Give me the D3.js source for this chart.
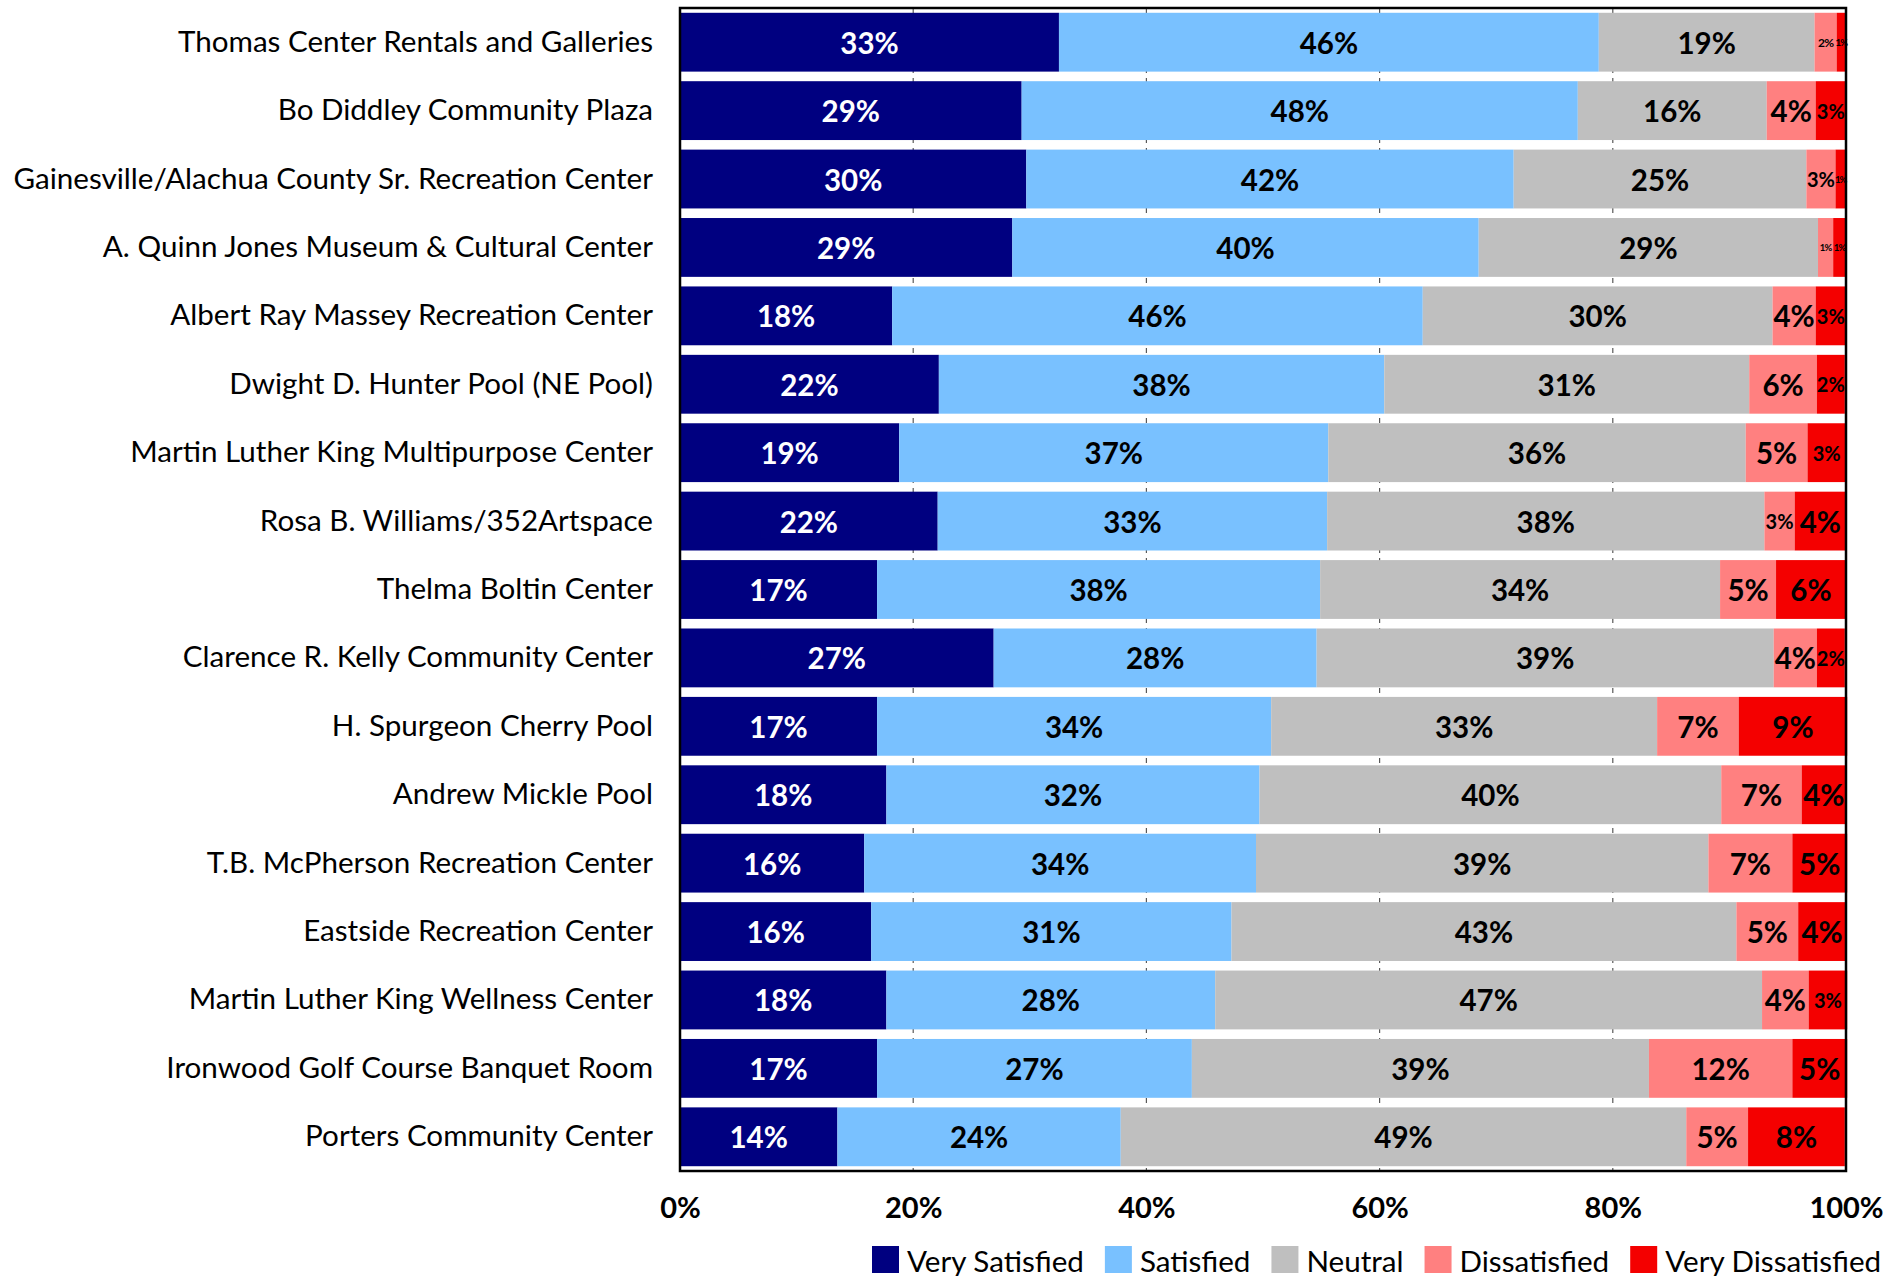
<!DOCTYPE html>
<html><head><meta charset="utf-8">
<script src="https://cdn.jsdelivr.net/npm/d3@7/dist/d3.min.js"></script>
<style>
html,body{margin:0;padding:0;background:#fff;}
svg{display:block;}
</style></head>
<body>
<svg id="chart" width="1902" height="1276"></svg>
<script>
const categories = [
  "Thomas Center Rentals and Galleries",
  "Bo Diddley Community Plaza",
  "Gainesville/Alachua County Sr. Recreation Center",
  "A. Quinn Jones Museum & Cultural Center",
  "Albert Ray Massey Recreation Center",
  "Dwight D. Hunter Pool (NE Pool)",
  "Martin Luther King Multipurpose Center",
  "Rosa B. Williams/352Artspace",
  "Thelma Boltin Center",
  "Clarence R. Kelly Community Center",
  "H. Spurgeon Cherry Pool",
  "Andrew Mickle Pool",
  "T.B. McPherson Recreation Center",
  "Eastside Recreation Center",
  "Martin Luther King Wellness Center",
  "Ironwood Golf Course Banquet Room",
  "Porters Community Center"
];
const seriesNames = ["Very Satisfied","Satisfied","Neutral","Dissatisfied","Very Dissatisfied"];
const verySatisfied    = [32.5, 29.3, 29.7, 28.5, 18.2, 22.2, 18.8, 22.1, 16.9, 26.9, 16.9, 17.7, 15.8, 16.4, 17.7, 16.9, 13.5];
const satisfied        = [46.3, 47.7, 41.8, 40.0, 45.5, 38.2, 36.8, 33.4, 38.0, 27.7, 33.8, 32.0, 33.6, 30.9, 28.2, 27.0, 24.3];
const neutral          = [18.5, 16.2, 25.1, 29.1, 30.0, 31.3, 35.8, 37.5, 34.3, 39.2, 33.1, 39.6, 38.8, 43.3, 46.9, 39.2, 48.5];
const dissatisfied     = [ 1.9,  4.2,  2.5,  1.3,  3.7,  5.8,  5.3,  2.6,  4.8,  3.7,  7.0,  6.9,  7.2,  5.3,  4.0, 12.3,  5.3];
const veryDissatisfied = [ 0.8,  2.6,  0.9,  1.1,  2.6,  2.4,  3.3,  4.4,  6.0,  2.4,  9.3,  3.8,  4.7,  4.1,  3.3,  4.7,  8.3];
const xTicks = [0, 20, 40, 60, 80, 100];

const colors = ["#000080","#79C1FF","#BFBFBF","#FF8080","#F40000"];
const labelColors = ["#FFFFFF","#000000","#000000","#000000","#000000"];

const seriesValues = [verySatisfied, satisfied, neutral, dissatisfied, veryDissatisfied];
const rows = categories.map((c, i) => {
  const r = {category: c};
  seriesNames.forEach((s, k) => r[s] = seriesValues[k][i]);
  return r;
});
const stacked = d3.stack().keys(seriesNames)(rows);

const svg = d3.select("#chart");
const L = 680, R = 1846, T = 8, B = 1171;
const x = d3.scaleLinear().domain([0, 100]).range([L, R]);
const y = d3.scaleBand().domain(categories).range([T, B]).paddingInner(0.14).paddingOuter(0.07);

const FONT = "Lato, 'Open Sans', sans-serif";

// gridlines
svg.append("g").selectAll("line").data(xTicks.filter(t => t > 0 && t < 100)).join("line")
  .attr("x1", d => x(d)).attr("x2", d => x(d)).attr("y1", T).attr("y2", B)
  .attr("stroke", "#595959").attr("stroke-width", 1.2).attr("stroke-dasharray", "5,5");

// bars
const gSeries = svg.append("g").selectAll("g").data(stacked).join("g")
  .attr("fill", (d, k) => colors[k]);
gSeries.selectAll("rect").data(d => d).join("rect")
  .attr("x", d => x(d[0]))
  .attr("width", d => x(d[1]) - x(d[0]))
  .attr("y", d => y(d.data.category))
  .attr("height", y.bandwidth());

// bar labels (font size shrinks for narrow segments)
function labelSize(w) {
  if (w < 16) return 9.5;
  if (w < 25) return 12;
  if (w < 40) return 20;
  return 29.5;
}
stacked.forEach((ser, k) => {
  svg.append("g").selectAll("text").data(ser).join("text")
    .attr("x", d => (x(d[0]) + x(d[1])) / 2)
    .attr("y", d => y(d.data.category) + y.bandwidth() / 2)
    .attr("text-anchor", "middle")
    .attr("dominant-baseline", "central")
    .attr("font-family", FONT)
    .attr("font-weight", "bold")
    .attr("fill", labelColors[k])
    .attr("font-size", d => labelSize(x(d[1]) - x(d[0])))
    .attr("letter-spacing", d => (x(d[1]) - x(d[0])) < 25 ? -0.8 : 0)
    .text(d => Math.round(d[1] - d[0]) + "%");
});

// frame
svg.append("rect").attr("x", L).attr("y", T).attr("width", R - L).attr("height", B - T)
  .attr("fill", "none").attr("stroke", "#000").attr("stroke-width", 2.5);

// y axis labels
const yAxis = d3.axisLeft(y).tickSize(0).tickPadding(27);
const gy = svg.append("g").attr("transform", `translate(${L},0)`).call(yAxis);
gy.select(".domain").remove();
gy.selectAll("text").attr("font-family", FONT).attr("font-size", 29.6).attr("fill", "#000");

// x axis labels
const xAxis = d3.axisBottom(x).tickValues(xTicks).tickSize(0).tickPadding(26).tickFormat(d => d + "%");
const gx = svg.append("g").attr("transform", `translate(0,${B})`).call(xAxis);
gx.select(".domain").remove();
gx.selectAll("text").attr("font-family", FONT).attr("font-weight", "bold").attr("font-size", 29).attr("fill", "#000");

// legend
const leg = svg.append("g").attr("transform", "translate(872,1259)");
let cx = 0;
seriesNames.forEach((s, k) => {
  leg.append("rect").attr("x", cx).attr("y", -13).attr("width", 27).attr("height", 27).attr("fill", colors[k]);
  const t = leg.append("text").attr("x", cx + 35).attr("y", 1).attr("dominant-baseline", "central")
    .attr("font-family", FONT).attr("font-size", 29.6).attr("fill", "#000").text(s);
  cx += 35 + t.node().getComputedTextLength() + 21;
});
</script>
</body></html>
